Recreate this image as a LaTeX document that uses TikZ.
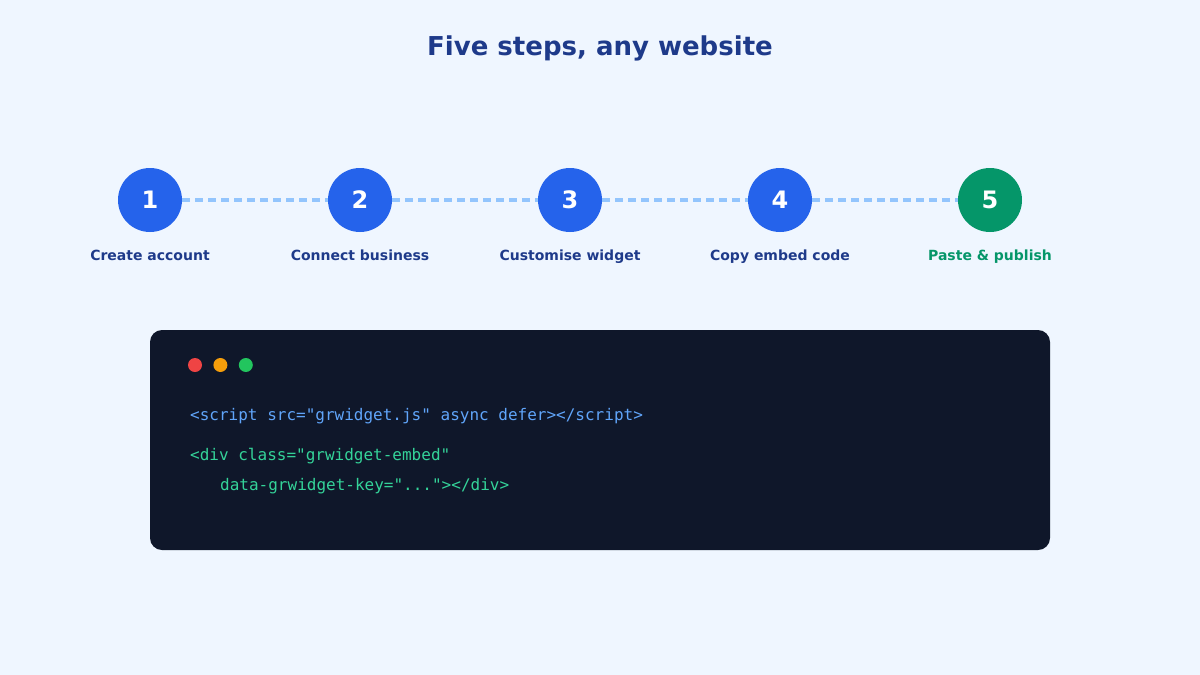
\documentclass[tikz,border=0pt]{standalone}
\usepackage{fontspec}
\setmainfont{DejaVu Sans}
\setmonofont{DejaVu Sans Mono}
\usetikzlibrary{positioning}

\definecolor{pagebg}{HTML}{EFF6FF}
\definecolor{navy}{HTML}{1E3A8A}
\definecolor{stepblue}{HTML}{2563EB}
\definecolor{stepgreen}{HTML}{059669}
\definecolor{linkblue}{HTML}{93C5FD}
\definecolor{codebg}{HTML}{0F172A}
\definecolor{codeblue}{HTML}{60A5FA}
\definecolor{codegreen}{HTML}{34D399}
\definecolor{dotred}{HTML}{EF4444}
\definecolor{dotamber}{HTML}{F59E0B}
\definecolor{dotgreen}{HTML}{22C55E}

\tikzset{
    stepdot/.style={circle, fill=stepblue, minimum size=64pt, inner sep=0pt,
        text=white, font=\bfseries\fontsize{24}{28}\selectfont},
    steplabel/.style={anchor=base, inner sep=0pt, text=navy,
        font=\bfseries\fontsize{14}{16}\selectfont},
    steplink/.style={draw=linkblue, line width=3.5pt, dash pattern=on 8pt off 5pt},
    codeline/.style={anchor=base west, inner sep=0pt,
        font=\ttfamily\fontsize{16}{18}\selectfont},
    winbtn/.style={circle, minimum size=14pt, inner sep=0pt}
}

\begin{document}
\begin{tikzpicture}[x=1pt, y=-1pt]
    \useasboundingbox[fill=pagebg] (0,0) rectangle (1200,675);

    \node (title) [anchor=base, text=navy, font=\bfseries\fontsize{26}{30}\selectfont] at (600,55) {Five steps, any website};

    % step circles and their captions
    \foreach \i/\lbl in {1/Create account, 2/Connect business, 3/Customise widget, 4/Copy embed code} {
        \node (s\i) [stepdot] at ({150+210*(\i-1)},200) {\i};
        \node (l\i) [steplabel] at ({150+210*(\i-1)},260) {\lbl};
    }
    \node (s5) [stepdot, fill=stepgreen] at (990,200) {5};
    \node (l5) [steplabel, text=stepgreen] at (990,260) {Paste \& publish};

    % dashed links between steps
    \foreach \a/\b in {1/2, 2/3, 3/4, 4/5}
        \path [steplink] (s\a.east) -- (s\b.west);

    % code window
    \path[fill=codebg, rounded corners=12pt] (150,330) rectangle (1050,550);
    \node (red) [winbtn, fill=dotred] at (195,365) {};
    \node (amber) [winbtn, fill=dotamber, right=11pt of red] {};
    \node (green) [winbtn, fill=dotgreen, right=11pt of amber] {};

    \node (code1) [codeline, text=codeblue] at (190,420) {<script src="grwidget.js" async defer></script>};
    \node (code2) [codeline, text=codegreen] at (190,460) {<div class="grwidget-embed"};
    \node (code3) [codeline, text=codegreen] at (220,490) {data-grwidget-key="..."></div>};
\end{tikzpicture}
\end{document}
